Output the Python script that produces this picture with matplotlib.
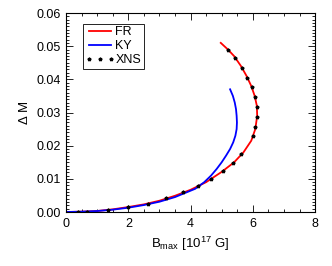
import matplotlib
matplotlib.use("Agg")
import matplotlib.pyplot as plt
from matplotlib.ticker import MultipleLocator

plt.rcParams["font.family"] = ["Liberation Sans", "DejaVu Sans"]
plt.rcParams["mathtext.fontset"] = "custom"
plt.rcParams["mathtext.rm"] = "Liberation Sans"
plt.rcParams["mathtext.it"] = "Liberation Sans"

# FR curve (B_max in 1e17 G, Delta M)
fr_b = [0.0, 0.5, 1.0, 1.5, 2.0, 2.5, 3.0, 3.5, 4.0, 4.5, 5.0, 5.4, 5.7,
        5.95, 6.08, 6.14, 6.13, 6.06, 5.95, 5.8, 5.62, 5.4, 5.2, 4.97]
fr_dm = [0.0, 0.0001, 0.0003, 0.0008, 0.0015, 0.0023, 0.0034, 0.0049,
         0.0067, 0.009, 0.0121, 0.015, 0.018, 0.0215, 0.025, 0.029,
         0.032, 0.035, 0.038, 0.041, 0.044, 0.047, 0.049, 0.051]

# KY curve
ky_b = [0.0, 0.5, 1.0, 1.5, 2.0, 2.5, 3.0, 3.5, 4.15, 4.44, 4.66, 4.84,
        5.0, 5.14, 5.27, 5.37, 5.44, 5.48, 5.49, 5.48, 5.46, 5.42, 5.36,
        5.27]
ky_dm = [0.0, 0.0001, 0.0003, 0.0007, 0.0013, 0.0021, 0.0031, 0.0045,
         0.007, 0.009, 0.011, 0.013, 0.015, 0.017, 0.019, 0.021, 0.023,
         0.025, 0.027, 0.029, 0.031, 0.033, 0.035, 0.037]

# XNS points
xns_b = [0.39, 0.67, 1.35, 2.0, 2.64, 3.21, 3.76, 4.24, 4.66, 5.05, 5.37,
         5.62, 6.01, 6.07, 6.14, 6.14, 6.07, 5.98, 5.82, 5.65, 5.43, 5.2]
xns_dm = [0.0, 0.0001, 0.0006, 0.0015, 0.0024, 0.0042, 0.006, 0.0078,
          0.0099, 0.0123, 0.0148, 0.0175, 0.0229, 0.0256, 0.0286, 0.0316,
          0.0346, 0.0376, 0.0404, 0.0434, 0.0464, 0.049]

fig = plt.figure(figsize=(3.32, 2.66), dpi=100)
ax = fig.add_axes([0.199, 0.203, 0.75, 0.748])

ax.plot(fr_b, fr_dm, color="red", lw=1.3, label="FR")
ax.plot(ky_b, ky_dm, color="blue", lw=1.3, label="KY")
ax.plot(xns_b, xns_dm, ls="none", marker="*", ms=2.6, color="black",
        label="XNS")

ax.set_xlim(0, 8)
ax.set_ylim(0, 0.06)
ax.xaxis.set_major_locator(MultipleLocator(2))
ax.xaxis.set_minor_locator(MultipleLocator(0.5))
ax.yaxis.set_major_locator(MultipleLocator(0.01))
ax.yaxis.set_minor_locator(MultipleLocator(0.001))
ax.yaxis.set_major_formatter(plt.FormatStrFormatter("%.2f"))
ax.tick_params(which="both", direction="in", top=True, right=True,
               labelsize=9, width=0.6)
ax.tick_params(which="major", length=5, pad=4)
ax.tick_params(which="minor", length=2.5)
for s in ax.spines.values():
    s.set_linewidth(0.8)

ax.set_xlabel(r"B$_{\rm max}$ [10$^{17}$ G]", fontsize=9.5)
ax.set_ylabel(r"$\Delta$ M", fontsize=9.5)

leg = ax.legend(loc="upper left", bbox_to_anchor=(0.068, 0.945), fontsize=9,
                numpoints=3, handlelength=2.3, handletextpad=0.1,
                borderpad=0.2, labelspacing=0.15, fancybox=False,
                framealpha=1, borderaxespad=0)
leg.get_frame().set_edgecolor("black")
leg.get_frame().set_linewidth(0.6)

fig.savefig("out.png", dpi=100)
